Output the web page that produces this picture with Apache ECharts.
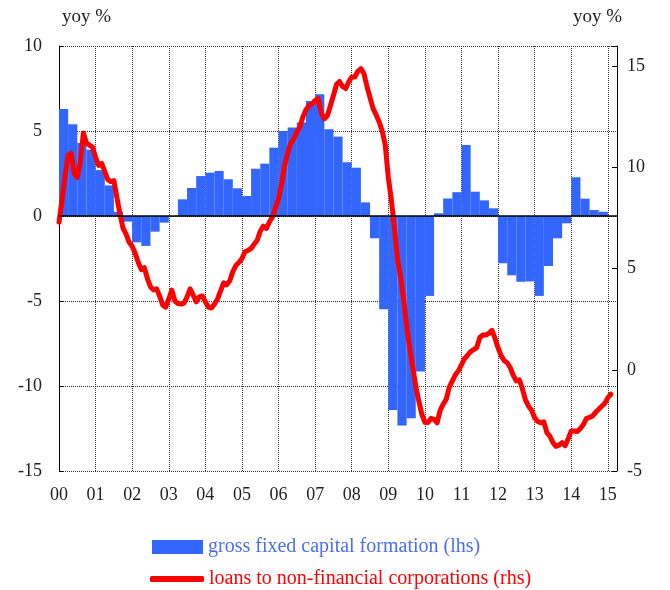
<!DOCTYPE html>
<html>
<head>
<meta charset="utf-8">
<script src="https://cdn.jsdelivr.net/npm/echarts@6/dist/echarts.min.js"></script>
<style>
    html, body {margin: 0; padding: 0; background: #fff;}
    #chart {width: 670px; height: 590px;}
</style>
</head>
<body>
<div id="chart"></div>
<script>
// gross fixed capital formation, yoy %, quarterly 2000Q1 - 2014Q4 (lhs)
var gfcfStart = 2000;
var gfcf = [
    6.3, 5.4, 4.3, 3.9,
    2.7, 1.8, 0.25, -0.33,
    -1.55, -1.76, -0.92, -0.39,
    -0.06, 0.98, 1.65, 2.35,
    2.55, 2.65, 2.16, 1.63,
    1.18, 2.78, 3.08, 4.02,
    5.0, 5.2, 5.5, 6.76,
    7.16, 5.1, 4.67, 3.16,
    2.84, 0.8, -1.31, -5.49,
    -11.41, -12.33, -11.9, -9.14,
    -4.7, 0.16, 1.03, 1.4,
    4.18, 1.43, 0.92, 0.45,
    -2.78, -3.49, -3.87, -3.85,
    -4.7, -2.94, -1.31, -0.43,
    2.28, 1.02, 0.35, 0.25
];

// loans to non-financial corporations, yoy %, monthly Jan 2000 - Feb 2015 (rhs)
var loansStart = 2000;
var loans = [
    7.3, 8.4, 9.6, 10.6, 10.7, 9.7, 9.5, 10.3, 11.7, 11.2, 11.1, 11.0,
    10.5, 10.1, 10.2, 9.8, 9.4, 9.3, 9.35, 8.5, 7.7, 7.0, 6.7, 6.3,
    6.1, 5.75, 5.3, 4.95, 5.05, 4.5, 4.1, 3.95, 4.0, 3.65, 3.2, 3.1,
    3.5, 3.94, 3.4, 3.28, 3.25, 3.3, 3.6, 4.0, 3.7, 3.36, 3.6, 3.65,
    3.36, 3.1, 3.05, 3.25, 3.5, 3.9, 4.3, 4.2, 4.4, 4.85, 5.15, 5.3,
    5.5, 5.83, 5.9, 6.0, 6.2, 6.4, 6.85, 7.1, 6.98, 7.3, 7.55, 8.0,
    8.45, 9.2, 10.1, 10.7, 11.2, 11.4, 11.75, 12.0, 12.5, 12.85, 13.05, 13.15,
    13.3, 13.4, 12.7, 12.4, 12.55, 13.05, 13.55, 14.1, 14.25, 14.0, 13.9, 14.22,
    14.47, 14.47, 14.75, 14.88, 14.64, 14.0, 13.45, 12.92, 12.6, 12.25, 11.8, 11.1,
    9.5, 8.4, 7.0, 5.5, 4.6, 3.5, 2.2, 1.1, 0.15, -0.8, -1.55, -2.2,
    -2.6, -2.6, -2.4, -2.45, -2.62, -2.0, -1.7, -1.45, -0.85, -0.55, -0.25, -0.05,
    0.25, 0.55, 0.72, 0.9, 1.0, 1.1, 1.6, 1.72, 1.72, 1.8, 1.95, 1.55,
    1.08, 0.7, 0.45, 0.35, 0.1, -0.28, -0.55, -0.5, -0.95, -1.5, -1.8, -2.0,
    -2.38, -2.55, -2.62, -2.57, -3.1, -3.28, -3.6, -3.78, -3.72, -3.6, -3.75, -3.4,
    -3.02, -3.02, -3.05, -2.9, -2.7, -2.4, -2.35, -2.28, -2.1, -1.95, -1.8, -1.66,
    -1.38, -1.2
];

var gfcfName = 'gross fixed capital formation (lhs)';
var loansName = 'loans to non-financial corporations (rhs)';

var FONT = '"Liberation Serif", "DejaVu Serif", serif';
var BLUE = '#3366ff';
var RED = '#ff0000';

var myChart = echarts.init(document.getElementById('chart'));

myChart.setOption({
    animation: false,
    backgroundColor: '#fff',
    textStyle: {fontFamily: FONT},
    grid: {left: 59, right: 53, top: 46, bottom: 119},
    graphic: [
        {type: 'text', left: 62, top: 8, style: {text: 'yoy %', font: '19px ' + FONT, fill: '#222'}},
        {type: 'text', right: 48, top: 8, style: {text: 'yoy %', font: '19px ' + FONT, fill: '#222'}}
    ],
    legend: [
        {
            left: 147, top: 532,
            itemWidth: 51, itemHeight: 14,
            data: [{name: gfcfName, icon: 'rect'}],
            textStyle: {fontFamily: FONT, fontSize: 20, color: '#4a6ff2'}
        },
        {
            left: 145, top: 564,
            itemWidth: 54, itemHeight: 6,
            data: [{name: loansName, icon: 'roundRect'}],
            textStyle: {fontFamily: FONT, fontSize: 20, color: RED}
        }
    ],
    xAxis: {
        type: 'value',
        min: 2000,
        max: 2015.25,
        interval: 1,
        axisLine: {show: false},
        axisTick: {show: false},
        axisLabel: {
            margin: 15,
            fontSize: 18,
            color: '#222',
            fontFamily: FONT,
            formatter: function (v) {
                if (Math.abs(v - Math.round(v)) > 1e-6) return '';
                var y = Math.round(v) % 100;
                return (y < 10 ? '0' : '') + y;
            }
        },
        splitLine: {show: true, lineStyle: {color: '#333', type: [1, 1], width: 1}}
    },
    yAxis: [
        {
            type: 'value',
            min: -15,
            max: 10,
            interval: 5,
            axisLine: {show: true, lineStyle: {color: '#000', width: 1}},
            axisTick: {show: true, inside: true, length: 4, lineStyle: {color: '#000'}},
            axisLabel: {margin: 17, fontSize: 18, color: '#222', fontFamily: FONT},
            splitLine: {show: true, lineStyle: {color: '#333', type: [1, 1], width: 1}}
        },
        {
            type: 'value',
            min: -5,
            max: 16,
            interval: 5,
            position: 'right',
            axisLine: {show: true, lineStyle: {color: '#000', width: 1}},
            axisTick: {show: true, inside: true, length: 5, lineStyle: {color: '#000'}},
            axisLabel: {
                margin: 10, fontSize: 18, color: '#222', fontFamily: FONT,
                formatter: function (v) {
                    return v % 5 === 0 ? String(v) : '';
                }
            },
            splitLine: {show: false}
        }
    ],
    series: [
        {
            name: gfcfName,
            type: 'bar',
            yAxisIndex: 0,
            barWidth: 9.2,
            itemStyle: {color: BLUE},
            data: gfcf.map(function (v, i) {
                return [gfcfStart + i / 4 + 0.125, v];
            }),
            markLine: {
                silent: true,
                symbol: 'none',
                label: {show: false},
                lineStyle: {color: '#000', type: 'solid', width: 1.5},
                data: [{yAxis: 0}]
            },
            z: 2
        },
        {
            name: loansName,
            type: 'line',
            yAxisIndex: 1,
            showSymbol: false,
            symbol: 'none',
            itemStyle: {color: RED},
            lineStyle: {color: RED, width: 5, cap: 'round', join: 'round'},
            data: loans.map(function (v, i) {
                return [loansStart + i / 12, v];
            }),
            z: 3
        }
    ]
});
</script>
</body>
</html>
